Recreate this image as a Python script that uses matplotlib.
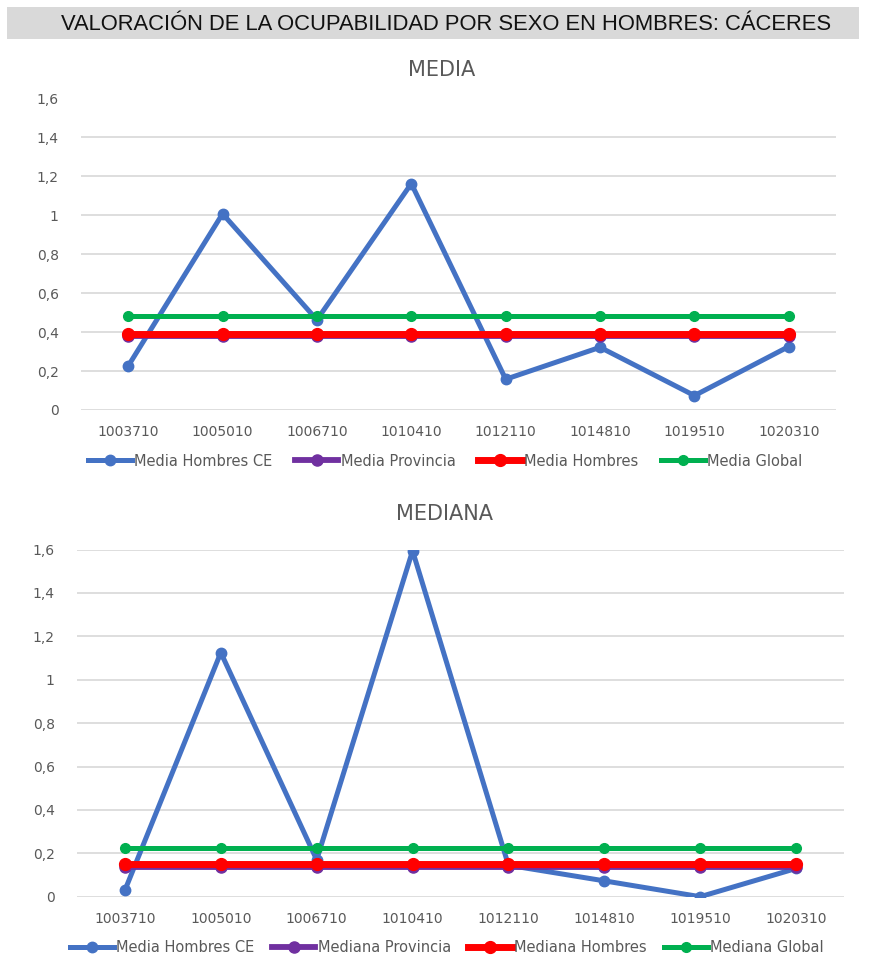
import matplotlib
matplotlib.use("Agg")
import matplotlib.pyplot as plt
from matplotlib.patches import Rectangle
from matplotlib.lines import Line2D

# Centros de estudio (códigos)
categories = ['1003710', '1005010', '1006710', '1010410',
              '1012110', '1014810', '1019510', '1020310']

# MEDIA
media_hombres_ce = [0.226, 1.008, 0.463, 1.163, 0.158, 0.322, 0.074, 0.326]
media_provincia = [0.38, 0.38, 0.38, 0.38, 0.38, 0.38, 0.38, 0.38]
media_hombres = [0.39, 0.39, 0.39, 0.39, 0.39, 0.39, 0.39, 0.39]
media_global = [0.483, 0.483, 0.483, 0.483, 0.483, 0.483, 0.483, 0.483]

# MEDIANA
mediana_hombres_ce = [0.03, 1.125, 0.17, 1.594, 0.145, 0.073, 0.0, 0.13]
mediana_provincia = [0.135, 0.135, 0.135, 0.135, 0.135, 0.135, 0.135, 0.135]
mediana_hombres = [0.15, 0.15, 0.15, 0.15, 0.15, 0.15, 0.15, 0.15]
mediana_global = [0.225, 0.225, 0.225, 0.225, 0.225, 0.225, 0.225, 0.225]

y_ticks = [0, 0.2, 0.4, 0.6, 0.8, 1.0, 1.2, 1.4, 1.6]
y_tick_labels = ['0', '0,2', '0,4', '0,6', '0,8', '1', '1,2', '1,4', '1,6']

BLUE = '#4472C4'
PURPLE = '#7030A0'
RED = '#FF0000'
GREEN = '#00B050'
TEXT_GRAY = '#595959'
GRID = '#dedede'

W, H = 871, 960
fig = plt.figure(figsize=(W / 100, H / 100), dpi=100)
fig.patch.set_facecolor('white')


def px_axes(left, top, right, bottom):
    return fig.add_axes([left / W, 1 - bottom / H, (right - left) / W, (bottom - top) / H])


def draw_panel(ax, series, title, title_xy, legend_y, legend_x, colspace):
    x = list(range(len(categories)))
    styles = [
        (BLUE, 3.6, 7.5),
        (PURPLE, 4.2, 8.0),
        (RED, 5.0, 8.5),
        (GREEN, 3.6, 7.0),
    ]
    handles = []
    for (label, vals), (col, lw, ms) in zip(series, styles):
        ax.plot(x, vals, color=col, lw=lw, marker='o', ms=ms,
                markerfacecolor=col, markeredgecolor=col,
                solid_capstyle='round', label=label, zorder=3)
        handles.append(Line2D([], [], color=col, lw=lw, marker='o', ms=ms,
                              markerfacecolor=col, markeredgecolor=col))
    ax.set_xlim(-0.5, len(categories) - 0.5)
    ax.set_ylim(0, 1.6)
    ax.set_yticks(y_ticks)
    ax.set_yticklabels(y_tick_labels)
    ax.set_xticks(x)
    ax.set_xticklabels(categories)
    ax.grid(axis='y', color=GRID, lw=1.4)
    ax.set_axisbelow(True)
    for s in ax.spines.values():
        s.set_visible(False)
    ax.tick_params(axis='both', length=0, colors=TEXT_GRAY, labelsize=10)
    ax.tick_params(axis='y', pad=16)
    ax.tick_params(axis='x', pad=11)
    fig.text(title_xy[0] / W, 1 - title_xy[1] / H, title, ha='center',
             va='center', color=TEXT_GRAY, fontsize=15)
    fig.legend(handles, [s[0] for s in series], loc='center',
               bbox_to_anchor=(legend_x / W, 1 - legend_y / H), ncol=4,
               frameon=False, fontsize=10.5, handlelength=3.0,
               handletextpad=0.15, columnspacing=colspace,
               labelcolor=TEXT_GRAY, numpoints=1)


# Banda del título general
fig.patches.append(Rectangle((7 / W, 1 - 39 / H), (859 - 7) / W, 32 / H,
                             transform=fig.transFigure, facecolor='#d9d9d9',
                             edgecolor='none', zorder=0))
fig.text(446 / W, 1 - 24 / H,
         'VALORACIÓN DE LA OCUPABILIDAD POR SEXO EN HOMBRES: CÁCERES',
         ha='center', va='center', fontsize=15.8, color='#111111',
         family=['Liberation Sans', 'DejaVu Sans'])

ax1 = px_axes(81, 98.5, 836, 410)
draw_panel(ax1, [('Media Hombres CE', media_hombres_ce),
                 ('Media Provincia', media_provincia),
                 ('Media Hombres', media_hombres),
                 ('Media Global', media_global)],
           'MEDIA', (442, 70), 461, 445, 1.55)

ax2 = px_axes(77, 549.5, 844, 896.7)
draw_panel(ax2, [('Media Hombres CE', mediana_hombres_ce),
                 ('Mediana Provincia', mediana_provincia),
                 ('Mediana Hombres', mediana_hombres),
                 ('Mediana Global', mediana_global)],
           'MEDIANA', (445, 514), 948, 447, 1.2)

fig.savefig('out.png', dpi=100, facecolor='white')
